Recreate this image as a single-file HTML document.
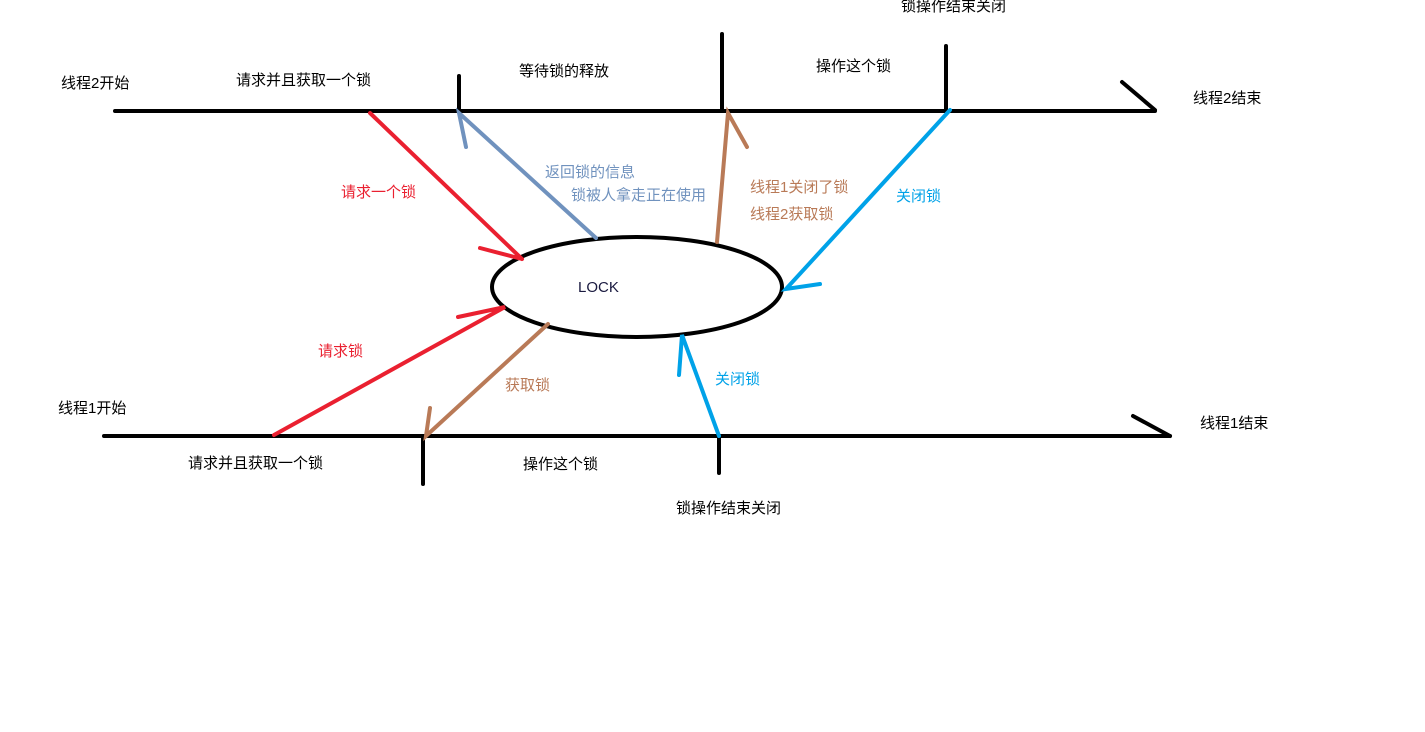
<!DOCTYPE html>
<html><head><meta charset="utf-8"><style>
body{margin:0;background:#fff;}
svg{display:block;}
text{font-family:"Liberation Sans","Noto Sans CJK SC",sans-serif;font-size:15px;}
</style></head><body>
<svg width="1425" height="732" viewBox="0 0 1425 732" xmlns="http://www.w3.org/2000/svg">
<g stroke="#000" stroke-width="4" fill="none" stroke-linecap="round">
<line x1="115" y1="111" x2="1155" y2="111"/>
<line x1="1122" y1="82" x2="1155" y2="110"/>
<line x1="459" y1="76" x2="459" y2="111"/>
<line x1="722" y1="34" x2="722" y2="111"/>
<line x1="946" y1="46" x2="946" y2="111"/>
<line x1="104" y1="436" x2="1170" y2="436"/>
<line x1="1133" y1="416" x2="1170" y2="436"/>
<line x1="423" y1="436" x2="423" y2="484"/>
<line x1="719" y1="436" x2="719" y2="473"/>
<ellipse cx="637" cy="287" rx="145" ry="50"/>
</g>
<g stroke-width="4" fill="none" stroke-linecap="round">
<path d="M370 113 L522 259 M480 248 L522 259" stroke="#ea2030"/>
<path d="M596 238 L459 113 L466 147" stroke="#7092be"/>
<path d="M717 242 L728 113 L747 147" stroke="#b97a57"/>
<path d="M950 110 L786 289 L820 284" stroke="#00a2e8"/>
<path d="M274 435 L505 307 L458 317" stroke="#ea2030"/>
<path d="M548 324 L426 436 L430 408" stroke="#b97a57"/>
<path d="M719 436 L682 335 L679 375" stroke="#00a2e8"/>
</g>
<g fill="#000">
<text x="61" y="88">线程2开始</text>
<text x="236" y="85">请求并且获取一个锁</text>
<text x="519" y="76">等待锁的释放</text>
<text x="816" y="71">操作这个锁</text>
<text x="901" y="11">锁操作结束关闭</text>
<text x="1193" y="103">线程2结束</text>
<text x="58" y="413">线程1开始</text>
<text x="188" y="468">请求并且获取一个锁</text>
<text x="523" y="469">操作这个锁</text>
<text x="676" y="513">锁操作结束关闭</text>
<text x="1200" y="428">线程1结束</text>
<text x="578" y="292" fill="#1a1a40">LOCK</text>
</g>
<text x="341" y="197" fill="#ea2030">请求一个锁</text>
<text x="318" y="356" fill="#ea2030">请求锁</text>
<text x="545" y="177" fill="#7092be">返回锁的信息</text>
<text x="571" y="200" fill="#7092be">锁被人拿走正在使用</text>
<text x="750" y="192" fill="#b97a57">线程1关闭了锁</text>
<text x="750" y="219" fill="#b97a57">线程2获取锁</text>
<text x="505" y="390" fill="#b97a57">获取锁</text>
<text x="896" y="201" fill="#00a2e8">关闭锁</text>
<text x="715" y="384" fill="#00a2e8">关闭锁</text>
</svg>
</body></html>
